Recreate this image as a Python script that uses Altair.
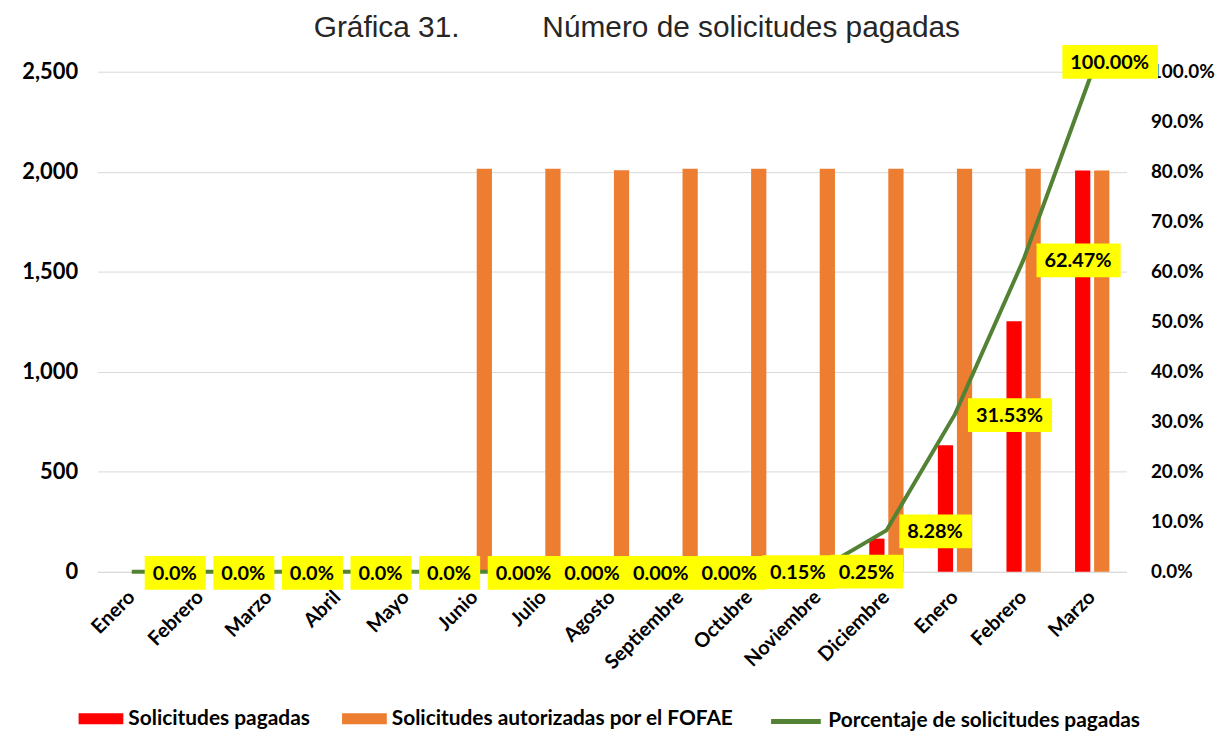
import json
import altair as alt
import pandas as pd

# ---------------- data ----------------
meses = ["Enero", "Febrero", "Marzo", "Abril", "Mayo", "Junio", "Julio", "Agosto",
         "Septiembre", "Octubre", "Noviembre", "Diciembre", "Enero", "Febrero", "Marzo"]
pagadas = [0, 0, 0, 0, 0, 0, 0, 0, 0, 3, 5, 166, 633, 1253, 2006]
autorizadas = [0, 0, 0, 0, 0, 2015, 2015, 2007, 2015, 2015, 2015, 2015, 2015, 2015, 2006]
porcentaje = [0, 0, 0, 0, 0, 0, 0, 0, 0, 0.0015, 0.0025, 0.0828, 0.3153, 0.6247, 1.0]
etiquetas = ["0.0%", "0.0%", "0.0%", "0.0%", "0.0%", "0.00%", "0.00%", "0.00%", "0.00%",
             "0.15%", "0.25%", "8.28%", "31.53%", "62.47%", "100.00%"]

serie_pag = "Solicitudes pagadas"
serie_aut = "Solicitudes autorizadas por el FOFAE"
serie_pct = "Porcentaje de solicitudes pagadas"

FONT = "Lato"
LABEL_SIZE = 20
LEGEND_SIZE = 21

# ---------------- frames ----------------
rows = []
for i in range(len(meses)):
    rows.append({"idx": i, "serie": serie_pag, "valor": pagadas[i]})
    rows.append({"idx": i, "serie": serie_aut, "valor": autorizadas[i]})
df_bars = pd.DataFrame(rows)

char_w = {".": 0.27, "%": 0.84}


def text_width(s):
    return sum(char_w.get(c, 0.58) for c in s) * LABEL_SIZE


last = len(meses) - 1
lab_rows = []
for i in range(len(meses)):
    w = text_width(etiquetas[i]) + 16
    if i == last:
        left, yc = -30, -10
    else:
        left, yc = 13, 1
    top, bot = yc - 17, yc + 17
    path = f"M{left},{top}H{left + w:.1f}V{bot}H{left}Z"
    lab_rows.append({"idx": i, "pct": porcentaje[i], "etiqueta": etiquetas[i],
                     "box": path, "serie_linea": serie_pct, "last": i == last})
df_line = pd.DataFrame(lab_rows)

# ---------------- encodings ----------------
x_enc = alt.X(
    "idx:O",
    scale=alt.Scale(paddingInner=0.5, paddingOuter=0.25),
    axis=alt.Axis(
        title=None,
        labelExpr=f"{json.dumps(meses)}[datum.value]",
        labelAngle=-45,
        labelAlign="right",
        labelBaseline="middle",
        labelFont=FONT,
        labelFontSize=20,
        labelFontWeight="bold",
        labelColor="black",
        labelPadding=22,
        labelLimit=0,
        labelOverlap=False,
        ticks=False,
        domainColor="#D9D9D9",
        domainWidth=1,
    ),
)

y_pct = alt.Y(
    "pct:Q",
    scale=alt.Scale(domain=[0, 1], nice=False),
    axis=alt.Axis(
        title=None,
        orient="right",
        values=[i / 10 for i in range(11)],
        format=".1%",
        labelFont=FONT,
        labelFontSize=19,
        labelFontWeight="bold",
        labelColor="black",
        labelPadding=24,
        ticks=False,
        domain=False,
        grid=False,
    ),
)

bars = alt.Chart(df_bars).mark_bar().encode(
    x=x_enc,
    xOffset=alt.XOffset("serie:N", sort=[serie_pag, serie_aut],
                        scale=alt.Scale(paddingInner=0.2, paddingOuter=0)),
    y=alt.Y(
        "valor:Q",
        scale=alt.Scale(domain=[0, 2500], nice=False),
        axis=alt.Axis(
            title=None,
            values=[0, 500, 1000, 1500, 2000, 2500],
            format=",.0f",
            labelFont=FONT,
            labelFontSize=22,
            labelFontWeight="bold",
            labelColor="black",
            labelPadding=20,
            ticks=False,
            domain=False,
            grid=True,
            gridColor="#D9D9D9",
            gridWidth=1,
        ),
    ),
    color=alt.Color(
        "serie:N",
        scale=alt.Scale(domain=[serie_pag, serie_aut], range=["#FF0000", "#ED7D31"]),
        legend=alt.Legend(
            title=None,
            orient="none",
            legendX=-19,
            legendY=628,
            direction="horizontal",
            symbolType="M-1,-0.25H1V0.25H-1Z",
            symbolSize=2025,
            symbolStrokeWidth=0,
            labelFont=FONT,
            labelFontSize=LEGEND_SIZE,
            labelFontWeight="bold",
            labelColor="black",
            labelOffset=5,
            columnPadding=32,
            labelLimit=0,
            padding=0,
        ),
    ),
)

line = alt.Chart(df_line).mark_line(strokeWidth=4).encode(
    x=x_enc,
    y=y_pct,
    stroke=alt.Stroke(
        "serie_linea:N",
        scale=alt.Scale(domain=[serie_pct], range=["#548235"]),
        legend=alt.Legend(
            title=None,
            orient="none",
            legendX=675,
            legendY=626,
            symbolType="stroke",
            symbolSize=2500,
            symbolStrokeWidth=5,
            labelFont=FONT,
            labelFontSize=LEGEND_SIZE,
            labelFontWeight="bold",
            labelColor="black",
            labelOffset=5,
            labelLimit=0,
            padding=0,
        ),
    ),
)

boxes = alt.Chart(df_line).mark_point(
    filled=True, size=4, opacity=1, strokeWidth=0, color="#FFFF00"
).encode(
    x=x_enc,
    y=y_pct,
    shape=alt.Shape("box:N", scale=None, legend=None),
)

texts_main = alt.Chart(df_line).transform_filter("!datum.last").mark_text(
    align="left", baseline="middle", dx=21, dy=2,
    font=FONT, fontSize=LABEL_SIZE, fontWeight="bold", color="black",
).encode(x=x_enc, y=y_pct, text="etiqueta:N")

texts_last = alt.Chart(df_line).transform_filter("datum.last").mark_text(
    align="left", baseline="middle", dx=-22, dy=-9,
    font=FONT, fontSize=LABEL_SIZE, fontWeight="bold", color="black",
).encode(x=x_enc, y=y_pct, text="etiqueta:N")

right_layer = alt.layer(line, boxes, texts_main, texts_last)

chart = (
    alt.layer(bars, right_layer)
    .resolve_scale(y="independent", color="independent")
    .properties(
        width=1035,
        height=503,
        autosize=alt.AutoSizeParams(type="none"),
        padding={"left": 90, "top": 62, "right": 90, "bottom": 158},
        title=alt.TitleParams(
            "Gráfica 31." + "\u00a0" * 10 + "Número de solicitudes pagadas",
            font="Liberation Sans",
            fontSize=30,
            fontWeight="normal",
            color="#262626",
            anchor="middle",
            dx=25,
            offset=2,
        ),
    )
    .configure_view(stroke=None)
)

chart.save("out.html", embed_options={"renderer": "svg", "actions": False})
